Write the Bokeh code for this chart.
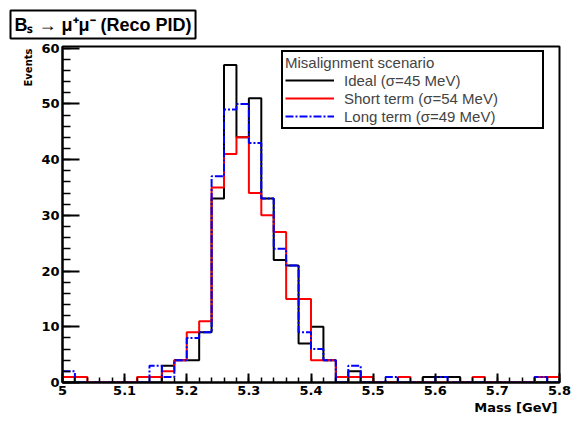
import numpy as np
from bokeh.plotting import figure
from bokeh.models import (FixedTicker, CustomJSTickFormatter, Title,
                          Legend, LegendItem)
from bokeh.embed import file_html
from bokeh.resources import INLINE

# ---- data (40 bins of 0.02 GeV from 5.0 to 5.8) ----
bin_low = 5.0
bin_width = 0.02
ideal = [0, 0, 0, 0, 0, 0, 0, 0, 3, 4,
         4, 9, 33, 57, 44, 51, 33, 22, 21, 7,
         10, 4, 0, 2, 0, 0, 0, 0, 0, 1,
         1, 1, 0, 0, 0, 0, 0, 0, 0, 0]
short_term = [1, 1, 0, 0, 0, 0, 1, 1, 2, 4,
              9, 11, 35, 41, 44, 34, 30, 27, 15, 15,
              4, 4, 1, 1, 1, 0, 0, 1, 0, 0,
              0, 0, 0, 1, 0, 0, 0, 0, 1, 1]
long_term = [2, 0, 0, 0, 0, 0, 0, 3, 1, 4,
             8, 9, 37, 49, 50, 43, 33, 24, 21, 9,
             6, 4, 0, 3, 0, 0, 1, 0, 0, 0,
             1, 0, 0, 0, 0, 0, 0, 0, 1, 0]
series_labels = ["Ideal (σ=45 MeV)", "Short term (σ=54 MeV)", "Long term (σ=49 MeV)"]
legend_title = "Misalignment scenario"
plot_title = "Bₛ → μ⁺μ⁻ (Reco PID)"
x_title = "Mass [GeV]"
y_title = "Events"
x_ticks = [5.0, 5.1, 5.2, 5.3, 5.4, 5.5, 5.6, 5.7, 5.8]
x_tick_labels = ["5", "5.1", "5.2", "5.3", "5.4", "5.5", "5.6", "5.7", "5.8"]
y_ticks = [0, 10, 20, 30, 40, 50, 60]

edges = bin_low + bin_width * np.arange(len(ideal) + 1)

p = figure(width=573, height=421, x_range=(5.0, 5.8), y_range=(0, 60.3),
           output_backend="svg", toolbar_location=None, title=None,
           min_border_left=62, min_border_right=14, min_border_top=45,
           min_border_bottom=39)
p.grid.visible = False
p.background_fill_color = "white"
p.border_fill_color = "white"
p.outline_line_color = "black"
p.outline_line_width = 2

for ax in (p.xaxis, p.yaxis):
    ax.axis_line_width = 2
    ax.major_tick_line_width = 2
    ax.minor_tick_line_width = 1.5
    ax.major_tick_out = 0
    ax.minor_tick_out = 0
    ax.major_label_text_font = "DejaVu Sans"
    ax.major_label_text_font_style = "bold"
    ax.major_label_text_font_size = "13px"
    ax.major_label_text_color = "black"
    ax.axis_line_color = "black"
    ax.major_tick_line_color = "black"
    ax.minor_tick_line_color = "black"

x_minor = [float(v) for v in np.round(np.arange(5.0, 5.8001, 0.02), 4)]
p.xaxis.ticker = FixedTicker(ticks=x_ticks, minor_ticks=x_minor)
p.xaxis.formatter = CustomJSTickFormatter(
    args=dict(lab_list=x_tick_labels, val_list=x_ticks),
    code="""
    let best = 0;
    for (let i = 0; i < val_list.length; i++) {
        if (Math.abs(val_list[i] - tick) < Math.abs(val_list[best] - tick)) best = i;
    }
    return lab_list[best];
    """)
p.xaxis.major_tick_in = 9
p.xaxis.minor_tick_in = 5
p.xaxis.major_label_standoff = 3

y_minor = list(range(0, 61, 2))
p.yaxis.ticker = FixedTicker(ticks=y_ticks, minor_ticks=y_minor)
p.yaxis.major_tick_in = 17
p.yaxis.minor_tick_in = 8
p.yaxis.major_label_standoff = 3


def outline(vals):
    return list(vals) + [vals[-1]]


r_ideal = p.step(edges, outline(ideal), mode="after", line_color="black", line_width=2)
r_short = p.step(edges, outline(short_term), mode="after", line_color="#ff0000", line_width=2)
r_long = p.step(edges, outline(long_term), mode="after", line_color="#0000ff",
                line_width=2, line_dash="8 2 2 2")

legend = Legend(items=[LegendItem(label=series_labels[0], renderers=[r_ideal]),
                       LegendItem(label=series_labels[1], renderers=[r_short]),
                       LegendItem(label=series_labels[2], renderers=[r_long])],
                location=(219, 253), title=legend_title,
                title_text_font="Liberation Sans", title_text_font_size="15px",
                title_text_font_style="normal", title_standoff=0,
                label_text_font="Liberation Sans", label_text_font_size="15px",
                glyph_width=49, glyph_height=18, label_height=18, label_width=196,
                label_standoff=10, spacing=0, padding=2, margin=0,
                border_line_color="black", border_line_width=2, border_line_alpha=1.0,
                background_fill_color="white", background_fill_alpha=1.0)
p.add_layout(legend)

title = Title(text=plot_title, align="left", offset=-52, standoff=16,
              text_font="Liberation Sans", text_font_style="bold",
              text_font_size="18px", text_color="black",
              border_line_color="black", border_line_width=2, border_line_alpha=1.0,
              background_fill_color="white", padding=4)
p.add_layout(title, "above")

# axis titles placed as side titles so they can be aligned to the axis ends (ROOT style)
p.add_layout(Title(text=x_title, align="right", offset=2, standoff=0,
                   text_font="DejaVu Sans", text_font_style="bold",
                   text_font_size="13px", text_color="black"), "below")
p.add_layout(Title(text=y_title, align="right", offset=2, standoff=10,
                   text_font="DejaVu Sans", text_font_style="bold",
                   text_font_size="10px", text_color="black"), "left")

open("out.html", "w").write(file_html(p, INLINE))
